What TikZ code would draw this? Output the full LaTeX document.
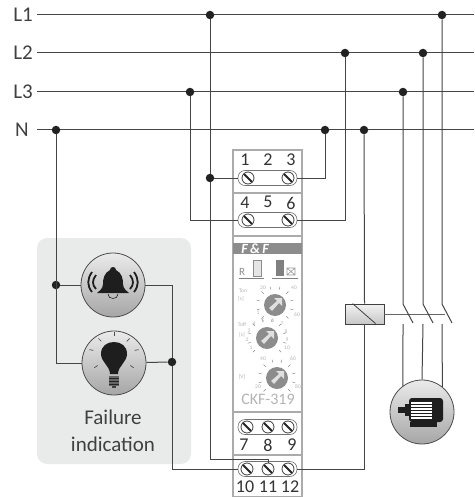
\documentclass[tikz,border=0pt]{standalone}
\usepackage{fontspec}
\setmainfont{Carlito}
\usetikzlibrary{calc}
\definecolor{wirecol}{HTML}{454545}
\definecolor{dotcol}{HTML}{222222}
\definecolor{panelcol}{HTML}{E9EBEA}
\definecolor{bodycol}{HTML}{ABABAB}
\definecolor{faintcol}{HTML}{B4B4B4}
\definecolor{iconcol}{HTML}{1E1E1E}
\tikzset{
  wire/.style={draw=wirecol, line width=1pt},
  dot/.style={circle, fill=dotcol, inner sep=0pt, minimum size=8.5pt},
  lab/.style={anchor=east, inner sep=0pt, inner xsep=4pt, text=black!75, font=\fontsize{21}{21}\selectfont},
  num/.style={inner sep=0pt, text=black!80, font=\fontsize{18}{18}\selectfont},
  tiny/.style={inner sep=0pt, text=faintcol, font=\fontsize{5.5}{5.5}\selectfont},
  pill/.style={draw=black!55, fill=white, rounded corners=7pt, minimum width=59pt, minimum height=15pt, inner sep=0pt, line width=.6pt},
  screw/.style={circle, draw=black!75, fill=white, inner sep=0pt, minimum size=12pt, line width=.8pt,
    path picture={\draw[black!85, line width=1.8pt] (path picture bounding box.north west) -- (path picture bounding box.south east);}},
  icon/.style={circle, draw=black!70, line width=.8pt, inner sep=0pt, minimum size=64pt, top color=white!92!black, middle color=white, bottom color=black!35}
}
\begin{document}
\begin{tikzpicture}[x=1pt, y=-1pt]
  \useasboundingbox (0,0) rectangle (474,497);

  % failure panel and relay body
  \fill[panelcol, rounded corners=10pt] (37,238) rectangle (191,464);
  \draw[bodycol, line width=1.4pt, fill=white] (233,150) rectangle (302,497);
  \foreach \y in {193,236,412,455}
    \draw[bodycol, line width=1.4pt] (233,\y) -- (302,\y);
  \fill[black!45] (233,243) rectangle (302,254);
  \node[inner sep=0pt, text=white, font=\fontsize{14}{14}\selectfont\bfseries\itshape] (logo) at (255,248.5) {F\,\&\,F};

  % bus lines
  \foreach \name/\y/\txt in {L1/15/L1, L2/53/L2, L3/92/L3}
  {
    \node[lab] (\name) at (37,\y) {\txt};
    \coordinate (\name e) at (474,\y);
    \draw[wire] (\name) -- (\name e);
  }
  \node[lab, inner xsep=8pt] (N) at (37,130) {N};
  \coordinate (Ne) at (474,130);
  \draw[wire] (N) -- (Ne);

  % junctions
  \foreach \name/\x/\y in {l1a/210/15, l1b/442/15, l2a/345/53, l2b/423/53, l3a/190/92, l3b/403/92,
      na/56/130, nb/325/130, nc/364/130, ja/210/178, jb/56/285, jc/172/362}
    \node[dot] (\name) at (\x,\y) {};

  % terminals
  \foreach \name/\y in {pa/178, pb/220, pc/427, pd/469}
    \node[pill] (\name) at (267.5,\y) {};
  \foreach \name/\x/\y in {t1/248/178, t3/288/178, t4/248/220, t6/288/220, t7/247/427, t8/268/427, t9/288/427,
      t10/247/469, t11/268/469, t12/288/469}
    \node[screw] (\name) at (\x,\y) {};
  \foreach \txt/\x/\y [count=\i] in {1/245/160, 2/268/160, 3/291/160, 4/245/203, 5/268/202, 6/291/203,
      7/244/445, 8/268/445, 9/292/445, 10/245/487, 11/268/487, 12/290/487}
    \node[num] (n\i) at (\x,\y) {\txt};

  % alarm symbols
  \node[icon] (bell) at (113,285) {};
  \node[icon] (bulb) at (114,363) {};
  \node[inner sep=0pt, align=center, text=black!75, font=\fontsize{21}{27}\selectfont] (failtxt) at (113,431) {Failure\\indication};

  % coil and motor
  \node[draw=black!75, line width=.8pt, minimum width=39pt, minimum height=20pt, inner sep=0pt,
    top color=black!5, bottom color=black!22] (coil) at (364.5,314) {};
  \draw[black!75, line width=.8pt] (coil.north west) ++(8,0) -- ++(23,20);
  \node[icon] (motor) at (422,412) {};

  % wiring
  \coordinate (c11) at (210,459);
  \draw[wire] (l1a) -- (ja);
  \draw[wire] (ja) -- (pa);
  \draw[wire] (ja) -- (c11) -| (t11.north);
  \draw[wire] (pa) -| (nb);
  \draw[wire] (pb) -| (l2a);
  \draw[wire] (pb) -| (l3a);
  \draw[wire] (na) |- (bulb);
  \draw[wire] (jb) -- (bell);
  \draw[wire] (bell) -| (jc);
  \draw[wire] (bulb) -- (jc);
  \draw[wire] (jc) |- (pd);
  \draw[wire] (pd) -| (coil.south);
  \draw[wire] (nc) -- (coil.north);

  % contacts
  \coordinate (link) at (445,314);
  \draw[wire, draw=black!60] (coil) -- (link);
  \foreach \name/\src/\x/\ang in {a/l3b/403/126, b/l2b/423/90, c/l1b/442/51}
  {
    \coordinate (s\name) at (\x,304);
    \coordinate (e\name) at (\x+10,323);
    \coordinate (f\name) at (\x,324);
    \draw[wire] (\src) -- (s\name) -- (e\name);
    \draw[wire] (f\name) -- (motor.\ang);
  }

  % bell
  \begin{scope}[shift={(113,285)}]
    \fill[iconcol] (-3,-15) .. controls (-3,-19) and (3,-19) .. (3,-15)
      .. controls (9,-12) and (10,-6) .. (10,-1) .. controls (10,4) and (14,6) .. (16,8)
      -- (-16,8) .. controls (-14,6) and (-10,4) .. (-10,-1) .. controls (-10,-6) and (-9,-12) .. (-3,-15) -- cycle;
    \draw[iconcol, line width=.6pt] (-5,9) .. controls (-5,15) and (5,15) .. (5,9);
    \foreach \s in {-1,1}
    {
      \draw[iconcol, line width=1.8pt] (\s*17,-10) .. controls (\s*21,-5) and (\s*21,0) .. (\s*17,4);
      \draw[iconcol, line width=1.8pt] (\s*21,-13) .. controls (\s*26,-6) and (\s*26,1) .. (\s*21,7);
    }
  \end{scope}

  % bulb
  \begin{scope}[shift={(114,363)}]
    \fill[iconcol] (-4,11) .. controls (-4,3) and (-13,-1) .. (-13,-9)
      .. controls (-13,-17) and (-7,-21) .. (0,-21) .. controls (7,-21) and (13,-17) .. (13,-9)
      .. controls (13,-1) and (4,3) .. (4,11) -- cycle;
    \fill[black!60] (-5,13) rectangle (5,23);
    \foreach \y in {15,18,21}
      \draw[black!85, line width=.8pt] (-5,\y) -- (5,\y);
    \fill[black!75] (-2,23) rectangle (2,25);
    \foreach \a/\r in {-90/18, -135/18, -45/18, -170/21, -10/21, 145/20, 35/20}
      \draw[black!70, line width=.7pt] ($(0,-9)+(\a:\r)$) -- ($(0,-9)+(\a:\r+4)$);
  \end{scope}

  % motor
  \begin{scope}[shift={(422,412)}]
    \fill[iconcol, rounded corners=3pt] (-13,-14) rectangle (21,10);
    \fill[iconcol] (-12,10) rectangle (15,15);
    \fill[iconcol] (-24,-5) rectangle (-17,1);
    \fill[iconcol] (-17,-8) rectangle (-13,4);
    \foreach \y in {-10,-7,-4,-1,2,5}
      \fill[white] (-11,\y) rectangle (10,\y+1.8);
  \end{scope}

  % front panel of the relay
  \fill[black!10, draw=black!45, line width=.6pt] (253,260) rectangle (261,276);
  \fill[black!50] (276,260) rectangle (284,276);
  \draw[black!50, line width=.8pt] (239,278) -- (264,278);
  \draw[black!50, line width=.8pt] (272,278) -- (298,278);
  \draw[black!40, line width=.6pt] (287,268) rectangle (295,275) (287,268) -- (295,275) (287,275) -- (295,268);
  \node[inner sep=0pt, text=black!45, font=\fontsize{11}{11}\selectfont] (rlab) at (242,272) {R};

  \foreach \cx/\cy/\rr in {275/305/16, 267/338/17, 277/378/16}
  {
    \begin{scope}[shift={(\cx,\cy)}]
      \foreach \a in {135,165,...,405}
        \draw[black!45, line width=.5pt] (\a:\rr) -- (\a:\rr+3);
      \fill[black!45] (0,0) circle (11pt);
      \fill[black!12] (7,-7) -- (7,1) -- (4,-2) -- (-3,6) -- (-6,3) -- (2,-4) -- (-1,-7) -- cycle;
    \end{scope}
  }
  \foreach \txt/\x/\y [count=\i] in {Ton/243/291, {[s]}/241/299, 20/263/288, 40/294/288, 1/258/313, 60/297/315,
      Toff/242/325, {[s]}/242/335, 1/251/348, 2/247/340, 3/249/331, 4/254/324, 5/263/321, 6/273/321, 7/282/324,
      8/286/332, 9/287/340, 10/287/348, {[V]}/242/377, 40/263/359, 60/293/359, 20/258/387, 80/298/387}
    \node[tiny] (k\i) at (\x,\y) {\txt};
  \node[inner sep=0pt, text=faintcol, font=\fontsize{16}{16}\selectfont] (model) at (268,399) {CKF-319};
\end{tikzpicture}
\end{document}
